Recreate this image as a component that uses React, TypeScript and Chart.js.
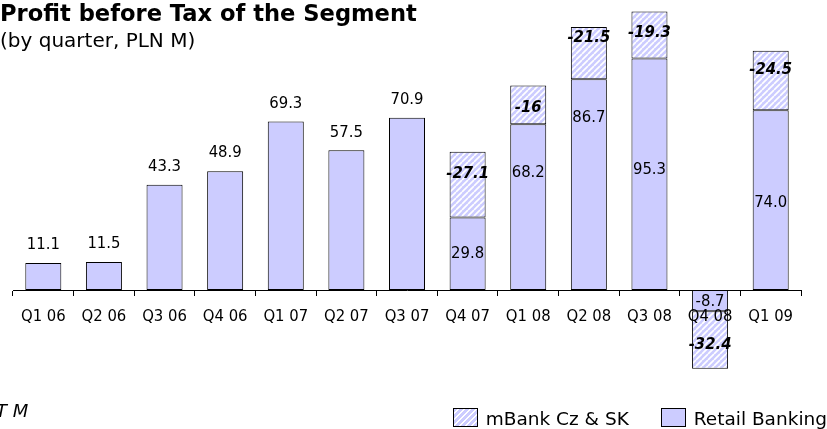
import React, { useEffect, useRef } from "react";
import { Chart, registerables } from "chart.js";

Chart.register(...registerables);

// ---- data ----
const categories = ["Q1 06", "Q2 06", "Q3 06", "Q4 06", "Q1 07", "Q2 07", "Q3 07", "Q4 07", "Q1 08", "Q2 08", "Q3 08", "Q4 08", "Q1 09"];
const retailBanking = [11.1, 11.5, 43.3, 48.9, 69.3, 57.5, 70.9, 29.8, 68.2, 86.7, 95.3, -8.7, 74.0];
const mBankCzSk: (number | null)[] = [null, null, null, null, null, null, null, -27.1, -16, -21.5, -19.3, -32.4, -24.5];
const seriesNames = ["Retail Banking", "mBank Cz & SK"];
const titleText = "Profit before Tax of the Segment";
const subtitleText = "(by quarter, PLN M)";
const footnoteText = "T M";

// ---- styles ----
const FILL = "#ccccff";
const EDGE = "#000000";
const COND = "'DejaVu Sans Condensed', 'DejaVu Sans', sans-serif";
const SANS = "'DejaVu Sans', Verdana, sans-serif";

// label nudges in pixels relative to segment centre
const retailShift: Record<number, number> = { 8: -34, 9: -67, 10: -4, 12: 3, 11: 1 };
const mBankShift: Record<number, number> = { 7: -11, 8: 3, 9: -15, 10: -2, 11: 5, 12: -11 };

function makeHatch(): CanvasPattern | string {
  const c = document.createElement("canvas");
  c.width = 6;
  c.height = 6;
  const g = c.getContext("2d");
  if (!g) return FILL;
  g.fillStyle = FILL;
  g.fillRect(0, 0, 6, 6);
  g.strokeStyle = "#ffffff";
  g.lineWidth = 1.7;
  g.beginPath();
  for (const o of [-6, 0, 6]) {
    g.moveTo(o, 6);
    g.lineTo(o + 6, 0);
  }
  g.stroke();
  return g.createPattern(c, "repeat") || FILL;
}

const labelPlugin = {
  id: "barLabels",
  afterDatasetsDraw(chart: any) {
    const ctx = chart.ctx as CanvasRenderingContext2D;
    ctx.save();
    ctx.fillStyle = "#000";
    ctx.textAlign = "center";
    ctx.textBaseline = "middle";
    const m0 = chart.getDatasetMeta(0);
    ctx.font = `16.5px ${COND}`;
    m0.data.forEach((el: any, i: number) => {
      const v = retailBanking[i];
      const txt = v.toFixed(1);
      if (mBankCzSk[i] === null) {
        ctx.fillText(txt, el.x, el.y - 18);
      } else {
        const cy = (el.y + el.base) / 2 + (retailShift[i] || 0);
        ctx.fillText(txt, el.x, cy);
      }
    });
    const m1 = chart.getDatasetMeta(1);
    ctx.font = `italic bold 16.5px ${COND}`;
    m1.data.forEach((el: any, i: number) => {
      const v = mBankCzSk[i];
      if (v === null || !el) return;
      const cy = (el.y + el.base) / 2 + (mBankShift[i] || 0);
      ctx.fillText(String(v), el.x, cy);
    });
    ctx.restore();
  },
};

export default function App() {
  const ref = useRef<HTMLCanvasElement | null>(null);

  useEffect(() => {
    if (!ref.current) return;
    const hatch = makeHatch();
    const mBankRanges = mBankCzSk.map((m, i) => {
      if (m === null) return null;
      const r = retailBanking[i];
      return r >= 0 ? [r, r + Math.abs(m)] : [r, m];
    });
    const chart = new Chart(ref.current, {
      type: "bar",
      data: {
        labels: categories,
        datasets: [
          {
            label: seriesNames[0],
            data: retailBanking,
            backgroundColor: FILL,
            borderColor: EDGE,
            borderWidth: 1,
            borderSkipped: false,
            grouped: false,
            barPercentage: 0.594,
            categoryPercentage: 1,
          },
          {
            label: seriesNames[1],
            data: mBankRanges as any,
            backgroundColor: hatch as any,
            borderColor: EDGE,
            borderWidth: 1,
            borderSkipped: false,
            grouped: false,
            barPercentage: 0.594,
            categoryPercentage: 1,
          },
        ],
      },
      options: {
        responsive: false,
        animation: false,
        events: [],
        layout: { padding: { left: 13, right: 26, top: 3.26, bottom: 41.8 } },
        plugins: {
          legend: { display: false },
          tooltip: { enabled: false },
          title: { display: false },
        },
        scales: {
          x: {
            position: { y: 0 } as any,
            offset: true,
            grid: {
              offset: true,
              drawOnChartArea: false,
              drawTicks: true,
              tickLength: 5,
              color: EDGE,
              lineWidth: 1,
            },
            border: { display: true, color: EDGE, width: 1, z: 1 } as any,
            ticks: {
              color: "#000",
              font: { family: COND, size: 16.5 },
              padding: 12,
              maxRotation: 0,
              autoSkip: false,
              z: 1,
            } as any,
            afterFit: (s: any) => {
              s.height = 0;
            },
          },
          y: { display: false, min: -40, max: 118 },
        },
      },
      plugins: [labelPlugin],
    });
    return () => chart.destroy();
  }, []);

  const hatchCss =
    "repeating-linear-gradient(135deg, #ccccff 0px, #ccccff 2.6px, #ffffff 2.6px, #ffffff 4.2px)";

  return (
    <div style={{ position: "fixed", left: 0, top: 0, width: 827, height: 429, overflow: "hidden", background: "#fff" }}>
      <canvas ref={ref} width={827} height={429} style={{ display: "block", width: 827, height: 429 }} />
      <div style={{ position: "absolute", left: 0, top: 2, font: `bold 22.6px ${SANS}`, lineHeight: "22px", color: "#000", whiteSpace: "nowrap" }}>
        {titleText}
      </div>
      <div style={{ position: "absolute", left: 0, top: 30, font: `20px ${SANS}`, lineHeight: "20px", color: "#000", whiteSpace: "nowrap" }}>
        {subtitleText}
      </div>
      <div style={{ position: "absolute", left: -4, top: 401, font: `italic 18px ${SANS}`, lineHeight: "20px", color: "#000", whiteSpace: "nowrap" }}>
        {footnoteText}
      </div>
      <div style={{ position: "absolute", right: 0, top: 407, display: "flex", alignItems: "center", gap: 32, font: `18.5px ${SANS}`, color: "#000", whiteSpace: "nowrap" }}>
        <div style={{ display: "flex", alignItems: "center" }}>
          <div style={{ width: 25, height: 19, boxSizing: "border-box", border: `1px solid ${EDGE}`, background: hatchCss, marginRight: 8 }} />
          <span style={{ lineHeight: "19px", paddingTop: 2 }}>{seriesNames[1]}</span>
        </div>
        <div style={{ display: "flex", alignItems: "center" }}>
          <div style={{ width: 25, height: 19, boxSizing: "border-box", border: `1px solid ${EDGE}`, background: FILL, marginRight: 8 }} />
          <span style={{ lineHeight: "19px", paddingTop: 2 }}>{seriesNames[0]}</span>
        </div>
      </div>
    </div>
  );
}
